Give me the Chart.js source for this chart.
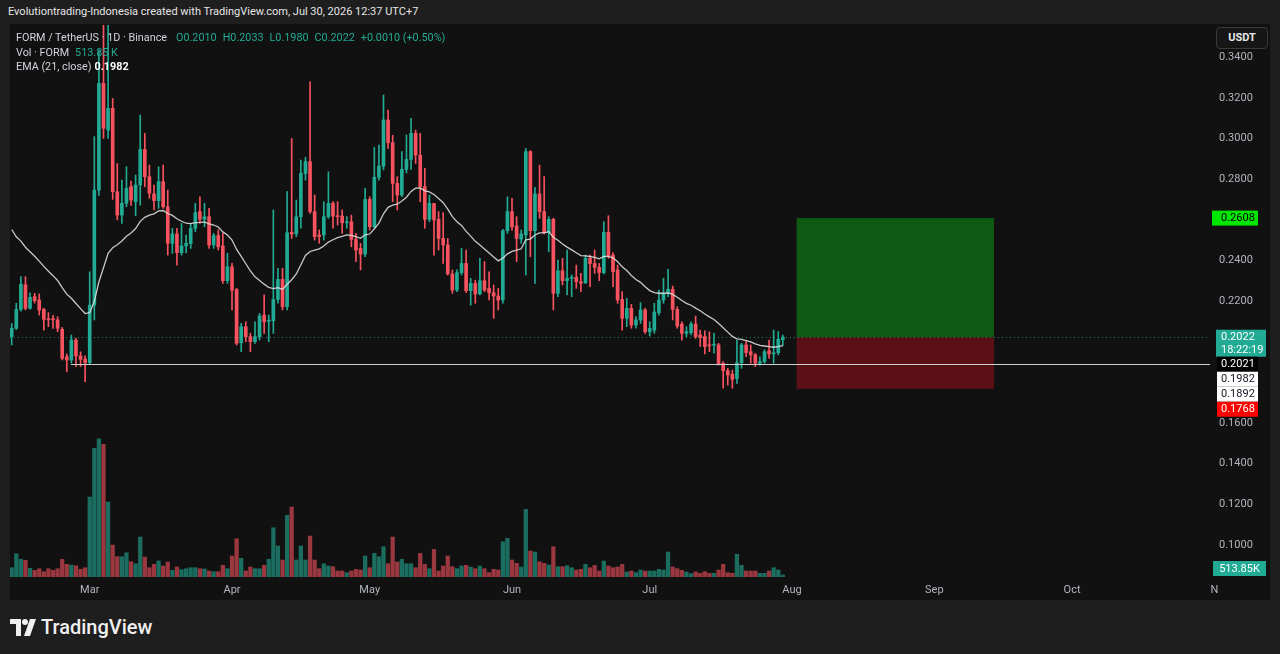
<!DOCTYPE html>
<html>
<head>
<meta charset="utf-8">
<script src="https://cdn.jsdelivr.net/npm/chart.js@4.4.1/dist/chart.umd.min.js"></script>
<style>
  html, body { margin: 0; padding: 0; width: 1280px; height: 654px; overflow: hidden; background: #1e1e1e; font-family: Roboto, "Noto Sans", sans-serif; }
  #title { position: absolute; left: 8px; top: 5px; font-size: 11px; color: #e6e6e6; white-space: nowrap; }
  #pane { position: absolute; left: 10px; top: 24px; width: 1260px; height: 576px; background: #111111; }
  #legend { position: absolute; left: 16px; top: 31px; font-size: 10.8px; line-height: 14.6px; color: #d1d4dc; white-space: nowrap; }
  #legend .up { color: #22ab94; }
  #legend .v { margin-left: 6px; }
  #legend b { color: #fff; font-weight: 700; margin-left: 3px; }
  #usdt { position: absolute; left: 1216px; top: 27px; width: 50px; height: 20px; border: 1px solid #3a3a3a; border-radius: 4px; color: #e6e6e6; font-size: 11px; font-weight: 700; line-height: 20px; text-align: center; background: #161616; }
  #brand { position: absolute; left: 10px; top: 615px; display: flex; align-items: center; color: #f0f0f0; font-size: 20px; font-weight: 500; }
  #brand svg { margin-right: 4px; }
</style>
</head>
<body>
<div id="title">Evolutiontrading-Indonesia created with TradingView.com, Jul 30, 2026 12:37 UTC+7</div>
<div id="pane"><canvas id="chart" width="1260" height="576"></canvas></div>
<div id="legend">
  <div>FORM / TetherUS · 1D · Binance<span class="up v" style="margin-left:9px">O0.2010</span><span class="up v">H0.2033</span><span class="up v">L0.1980</span><span class="up v">C0.2022</span><span class="up v">+0.0010 (+0.50%)</span></div>
  <div>Vol · FORM<span class="up v">513.85 K</span></div>
  <div>EMA (21, close)<b>0.1982</b></div>
</div>
<div id="usdt">USDT</div>
<div id="brand">
  <svg width="27" height="17" viewBox="0 0 27 17"><path d="M0 0h11v17h-5v-12h-6z" fill="#f0f0f0"/><circle cx="15" cy="3" r="3" fill="#f0f0f0"/><path d="M20 0h6l-6 17h-6z" fill="#f0f0f0"/></svg>
  TradingView
</div>
<script>
// daily candles FORM/USDT, first candle Feb 12, last Jul 30
const opens = [
  0.2025,0.2066,0.2159,0.2280,0.2164,0.2222,0.2205,0.2159,0.2112,0.2112,0.2107,0.2061,0.1926,0.1910,0.2008,0.1930,0.1915,
  0.1897,0.2180,0.2746,0.3271,0.3041,0.3148,0.2738,0.2623,0.2681,0.2763,0.2689,0.2771,0.2946,0.2812,0.2727,0.2694,0.2787,
  0.2664,0.2484,0.2530,0.2438,0.2471,0.2483,0.2558,0.2640,0.2602,0.2615,0.2476,0.2522,0.2471,0.2300,0.2369,0.2257,0.1995,
  0.2074,0.2025,0.2000,0.2025,0.2131,0.2100,0.2103,0.2208,0.2307,0.2172,0.2538,0.2530,0.2615,0.2828,0.2886,0.2640,0.2525,
  0.2525,0.2615,0.2681,0.2620,0.2618,0.2585,0.2590,0.2503,0.2459,0.2431,0.2700,0.2566,0.2809,0.2864,0.3091,0.2979,0.2779,
  0.2722,0.2848,0.2897,0.3025,0.2918,0.2763,0.2602,0.2680,0.2602,0.2508,0.2476,0.2333,0.2254,0.2340,0.2385,0.2251,0.2287,
  0.2235,0.2300,0.2262,0.2241,0.2225,0.2205,0.2546,0.2640,0.2569,0.2505,0.2525,0.2935,0.2546,0.2727,0.2640,0.2536,0.2602,
  0.2238,0.2349,0.2300,0.2312,0.2317,0.2295,0.2289,0.2410,0.2385,0.2366,0.2340,0.2538,0.2426,0.2353,0.2208,0.2115,0.2164,
  0.2082,0.2107,0.2156,0.2049,0.2057,0.2143,0.2205,0.2238,0.2258,0.2159,0.2087,0.2041,0.2045,0.2087,0.2033,0.2025,0.1984,
  0.1983,0.1984,0.1894,0.1857,0.1840,0.1819,0.1897,0.1984,0.1951,0.1935,0.1894,0.1902,0.1955,0.1940,0.1946,0.2010
];
const highs = [
  0.2090,0.2189,0.2320,0.2320,0.2240,0.2238,0.2235,0.2165,0.2143,0.2130,0.2123,0.2070,0.1940,0.2033,0.2016,0.1950,0.1930,
  0.2344,0.3009,0.3435,0.3600,0.3600,0.3197,0.2877,0.2795,0.2861,0.2790,0.2820,0.3115,0.3025,0.2869,0.2771,0.2861,0.2869,
  0.2746,0.2558,0.2558,0.2582,0.2525,0.2582,0.2681,0.2713,0.2681,0.2656,0.2533,0.2550,0.2533,0.2435,0.2385,0.2262,0.2090,
  0.2098,0.2041,0.2098,0.2139,0.2230,0.2131,0.2648,0.2361,0.2361,0.2738,0.3000,0.2697,0.2894,0.2907,0.3279,0.2722,0.2550,
  0.2689,0.2836,0.2689,0.2689,0.2648,0.2615,0.2623,0.2533,0.2484,0.2754,0.2713,0.2956,0.2967,0.3214,0.3140,0.3016,0.2812,
  0.2935,0.3017,0.3099,0.3041,0.3025,0.2853,0.2722,0.2681,0.2640,0.2635,0.2508,0.2353,0.2353,0.2459,0.2451,0.2312,0.2303,
  0.2410,0.2394,0.2344,0.2279,0.2262,0.2553,0.2713,0.2705,0.2615,0.2550,0.2951,0.2940,0.2759,0.2869,0.2812,0.2615,0.2607,
  0.2402,0.2410,0.2451,0.2328,0.2377,0.2336,0.2426,0.2426,0.2451,0.2385,0.2590,0.2620,0.2438,0.2377,0.2246,0.2213,0.2184,
  0.2123,0.2192,0.2164,0.2098,0.2189,0.2254,0.2312,0.2356,0.2274,0.2172,0.2098,0.2074,0.2098,0.2126,0.2057,0.2054,0.2049,
  0.2041,0.1992,0.1902,0.1869,0.1860,0.2008,0.1992,0.2000,0.1984,0.1943,0.1926,0.1960,0.2008,0.2057,0.2050,0.2033
];
const lows = [
  0.1984,0.2060,0.2150,0.2156,0.2160,0.2190,0.2131,0.2057,0.2074,0.2065,0.2049,0.1910,0.1852,0.1895,0.1877,0.1877,0.1803,
  0.1890,0.2107,0.2720,0.3000,0.3000,0.2700,0.2599,0.2582,0.2664,0.2670,0.2620,0.2672,0.2763,0.2705,0.2648,0.2656,0.2656,
  0.2426,0.2435,0.2377,0.2426,0.2438,0.2459,0.2541,0.2582,0.2566,0.2459,0.2459,0.2451,0.2287,0.2287,0.2156,0.1984,0.1951,
  0.2000,0.1951,0.1992,0.2008,0.2041,0.2000,0.2041,0.2189,0.2156,0.2156,0.2508,0.2517,0.2558,0.2795,0.2631,0.2500,0.2484,
  0.2500,0.2607,0.2558,0.2574,0.2533,0.2558,0.2467,0.2394,0.2353,0.2418,0.2549,0.2558,0.2795,0.2845,0.2951,0.2689,0.2648,
  0.2713,0.2830,0.2848,0.2877,0.2689,0.2558,0.2590,0.2426,0.2451,0.2385,0.2328,0.2238,0.2246,0.2328,0.2241,0.2180,0.2189,
  0.2230,0.2246,0.2205,0.2115,0.2156,0.2189,0.2533,0.2549,0.2394,0.2484,0.2328,0.2418,0.2287,0.2607,0.2530,0.2443,0.2156,
  0.2221,0.2279,0.2230,0.2221,0.2262,0.2246,0.2287,0.2271,0.2336,0.2300,0.2333,0.2410,0.2271,0.2189,0.2057,0.2074,0.2066,
  0.2066,0.2090,0.2041,0.2028,0.2041,0.2131,0.2189,0.2221,0.2107,0.2066,0.2008,0.2025,0.2033,0.2016,0.1976,0.1940,0.1951,
  0.1943,0.1885,0.1771,0.1787,0.1771,0.1795,0.1869,0.1926,0.1894,0.1877,0.1885,0.1894,0.1918,0.1894,0.1935,0.1980
];
const closes = [
  0.2066,0.2159,0.2282,0.2164,0.2218,0.2202,0.2156,0.2110,0.2108,0.2108,0.2066,0.1918,0.1910,0.2008,0.1930,0.1913,0.1897,
  0.2180,0.2746,0.3271,0.3050,0.3148,0.2738,0.2623,0.2681,0.2754,0.2697,0.2771,0.2946,0.2812,0.2730,0.2694,0.2787,0.2664,
  0.2484,0.2530,0.2438,0.2471,0.2484,0.2558,0.2635,0.2602,0.2615,0.2476,0.2522,0.2467,0.2300,0.2369,0.2254,0.1992,0.2074,
  0.2025,0.2000,0.2025,0.2126,0.2098,0.2105,0.2208,0.2307,0.2172,0.2536,0.2530,0.2615,0.2828,0.2886,0.2640,0.2517,0.2517,
  0.2615,0.2681,0.2618,0.2615,0.2585,0.2590,0.2503,0.2451,0.2431,0.2700,0.2566,0.2809,0.2864,0.3091,0.2979,0.2779,0.2722,
  0.2848,0.2897,0.3025,0.2918,0.2763,0.2602,0.2681,0.2599,0.2508,0.2476,0.2333,0.2254,0.2340,0.2385,0.2251,0.2287,0.2235,
  0.2300,0.2254,0.2241,0.2225,0.2205,0.2546,0.2640,0.2566,0.2508,0.2530,0.2935,0.2546,0.2727,0.2640,0.2536,0.2602,0.2238,
  0.2349,0.2300,0.2312,0.2315,0.2295,0.2287,0.2410,0.2385,0.2366,0.2340,0.2538,0.2421,0.2344,0.2205,0.2115,0.2164,0.2082,
  0.2107,0.2156,0.2049,0.2066,0.2146,0.2205,0.2238,0.2258,0.2159,0.2077,0.2041,0.2049,0.2087,0.2025,0.2021,0.1976,0.1980,
  0.1984,0.1890,0.1857,0.1836,0.1815,0.1897,0.1984,0.1946,0.1935,0.1894,0.1902,0.1951,0.1940,0.1946,0.2012,0.2022
];
// volume in millions of FORM
const volumes = [
  2.39,5.99,4.55,4.29,2.24,1.72,2.13,1.36,2.13,1.72,2.13,4.55,3.26,3.08,2.90,1.98,2.39,
  20.56,33.08,35.54,34.10,19.28,8.22,5.22,5.22,6.25,3.93,3.42,10.28,5.14,2.39,3.26,4.11,2.83,
  3.86,1.72,2.57,1.88,2.13,2.39,2.39,2.13,2.06,1.54,1.36,1.36,3.01,2.13,5.40,9.84,4.81,
  1.54,2.57,2.13,2.13,3.01,4.55,12.67,7.97,4.37,15.86,17.99,4.37,7.97,4.37,10.54,4.37,2.13,
  3.42,2.83,2.65,1.54,1.54,1.11,1.54,1.98,1.80,5.40,2.39,6.09,5.22,7.79,3.42,10.28,3.86,
  4.55,3.42,3.42,2.39,6.09,3.26,2.13,7.12,1.54,2.83,5.40,2.65,2.13,2.83,3.01,2.57,2.13,
  2.83,2.13,1.11,1.98,1.80,9.07,9.95,4.37,3.52,2.57,17.40,6.68,6.43,3.93,3.52,3.08,7.79,
  2.65,2.65,2.90,2.39,1.80,1.98,3.26,2.39,3.01,1.54,4.11,2.83,2.39,2.57,3.26,1.29,1.54,
  1.11,1.80,1.54,1.54,1.54,1.98,1.80,6.43,2.57,2.13,1.72,1.29,0.85,1.29,0.95,1.36,0.95,
  0.95,1.80,3.26,1.11,0.95,5.83,3.01,1.54,1.54,1.54,0.95,0.95,1.54,2.39,1.80,0.51385
];

const monthTicks = [17, 48, 78, 109, 139, 170, 201, 231, 262];
const monthLabels = ['Mar', 'Apr', 'May', 'Jun', 'Jul', 'Aug', 'Sep', 'Oct', 'N'];
const priceTicks = [0.10, 0.12, 0.14, 0.16, 0.18, 0.20, 0.22, 0.24, 0.26, 0.28, 0.30, 0.32, 0.34];
const coveredTicks = [0.18, 0.20, 0.26];

// long position tool and drawings
const posEntry = 0.2022, posTarget = 0.2608, posStop = 0.1768;
const posFrom = 171, posTo = 214;
const hLinePrice = 0.1892, hLineFrom = 12.9;
const lastPrice = 0.2022, countdown = '18:22:19', emaLast = 0.1982;
const lastVolumeText = '513.85K';

const emaLength = 21;
const emaFirst = 0.2552; // EMA value at the first visible candle
const ema = [];
closes.forEach((c, i) => {
  ema.push(i === 0 ? emaFirst : ema[i - 1] + (c - ema[i - 1]) * 2 / (emaLength + 1));
});

const UP = '#22ab94', DOWN = '#f7525f';
const isUp = closes.map((c, i) => c >= opens[i]);
const candleColors = isUp.map(u => u ? UP : DOWN);
const volColors = isUp.map(u => u ? 'rgba(34,171,148,0.6)' : 'rgba(247,82,95,0.6)');

const overlay = {
  id: 'overlay',
  beforeDatasetsDraw(chart) {
    const { ctx, chartArea: a, scales: { x, y } } = chart;
    ctx.save();
    const x0 = x.getPixelForValue(posFrom), x1 = x.getPixelForValue(posTo);
    const yT = y.getPixelForValue(posTarget), yE = y.getPixelForValue(posEntry), yS = y.getPixelForValue(posStop);
    ctx.fillStyle = '#0e5a12';
    ctx.fillRect(x0, yT, x1 - x0, yE - yT);
    ctx.fillStyle = '#5a1015';
    ctx.fillRect(x0, yE, x1 - x0, yS - yE);
    // last price dotted line
    const yl = Math.round(y.getPixelForValue(lastPrice)) + 0.5;
    ctx.strokeStyle = 'rgba(34,171,148,0.75)';
    ctx.lineWidth = 1;
    ctx.setLineDash([1, 3]);
    ctx.beginPath();
    ctx.moveTo(a.left, yl);
    ctx.lineTo(a.right, yl);
    ctx.stroke();
    ctx.restore();
  },
  afterDatasetsDraw(chart) {
    const { ctx, chartArea: a, scales: { x, y } } = chart;
    ctx.save();
    const yh = Math.round(y.getPixelForValue(hLinePrice)) + 0.5;
    ctx.strokeStyle = '#cfcfcf';
    ctx.lineWidth = 1.2;
    ctx.beginPath();
    ctx.moveTo(x.getPixelForValue(hLineFrom), yh);
    ctx.lineTo(a.right, yh);
    ctx.stroke();
    ctx.restore();
  },
  afterDraw(chart) {
    const { ctx, chartArea: a, scales: { y, yv } } = chart;
    ctx.save();
    ctx.font = '11px Roboto, sans-serif';
    ctx.textBaseline = 'middle';
    ctx.textAlign = 'left';
    const textX = a.right + 11;
    // target label
    let py = y.getPixelForValue(posTarget);
    ctx.fillStyle = '#00e600';
    ctx.fillRect(a.right + 2, py - 7.5, 46, 15);
    ctx.fillStyle = '#000';
    ctx.fillText(posTarget.toFixed(4), textX, py + 0.5);
    // stacked labels around the last price
    const marks = [
      { p: lastPrice, t: lastPrice.toFixed(4), sub: countdown, bg: UP, fg: '#fff' },
      { p: 0.2021, t: '0.2021', bg: '#000', fg: '#fff' },
      { p: emaLast, t: emaLast.toFixed(4), bg: '#fff', fg: '#131722' },
      { p: hLinePrice, t: hLinePrice.toFixed(4), bg: '#fff', fg: '#131722' },
      { p: posStop, t: posStop.toFixed(4), bg: '#ff0000', fg: '#fff' }
    ];
    let bottom = -Infinity;
    marks.forEach(m => {
      const h = m.sub ? 27 : 15;
      const top = Math.max(y.getPixelForValue(m.p) - 7.5, bottom);
      ctx.fillStyle = m.bg;
      if (m.sub) ctx.fillRect(a.right + 6, top, 50, h);
      else ctx.fillRect(a.right + 7, top, 41, h);
      ctx.fillStyle = m.fg;
      ctx.fillText(m.t, textX, top + 8);
      if (m.sub) ctx.fillText(m.sub, textX, top + 20.5);
      bottom = top + h;
    });
    // last volume label
    const vy = Math.min(yv.getPixelForValue(volumes[volumes.length - 1]), a.bottom - 8.5);
    ctx.fillStyle = UP;
    ctx.fillRect(a.right + 3, vy - 7.5, 53, 15);
    ctx.fillStyle = '#fff';
    ctx.textAlign = 'center';
    ctx.fillText(lastVolumeText, a.right + 29.5, vy + 0.5);
    ctx.restore();
  }
};

new Chart(document.getElementById('chart'), {
  type: 'bar',
  data: {
    datasets: [
      {
        label: 'Volume',
        data: volumes.map((v, i) => ({ x: i, y: v })),
        yAxisID: 'yv',
        backgroundColor: volColors,
        barThickness: 3.6,
        grouped: false,
        order: 4
      },
      {
        label: 'Wicks',
        data: highs.map((h, i) => ({ x: i, y: [lows[i], h] })),
        backgroundColor: candleColors,
        barThickness: 1,
        grouped: false,
        order: 3
      },
      {
        label: 'Bodies',
        data: opens.map((o, i) => ({ x: i, y: [o, closes[i]] })),
        backgroundColor: candleColors,
        barThickness: 3,
        minBarLength: 1,
        grouped: false,
        order: 2
      },
      {
        type: 'line',
        label: 'EMA (21, close)',
        data: ema.map((v, i) => ({ x: i, y: v })),
        borderColor: 'rgba(225,225,225,0.88)',
        borderWidth: 1.3,
        pointRadius: 0,
        tension: 0,
        order: 1
      }
    ]
  },
  options: {
    responsive: false,
    animation: false,
    layout: { padding: { top: 1, left: 0, right: 0, bottom: 0 } },
    plugins: { legend: { display: false }, tooltip: { enabled: false } },
    scales: {
      x: {
        type: 'linear',
        offset: false,
        min: -0.37,
        max: 261.06,
        grid: { display: false, drawTicks: false },
        border: { display: false },
        afterBuildTicks: s => { s.ticks = monthTicks.map(v => ({ value: v })); },
        afterFit: s => { s.height = 23; s.paddingLeft = 0; s.paddingRight = 0; },
        ticks: {
          autoSkip: false,
          maxRotation: 0,
          padding: 7,
          color: '#b2b5be',
          font: { family: 'Roboto', size: 11 },
          callback: v => monthLabels[monthTicks.indexOf(v)] || ''
        }
      },
      y: {
        position: 'right',
        min: 0.08423,
        max: 0.35582,
        grid: { display: false, drawTicks: false },
        border: { display: false },
        afterBuildTicks: s => { s.ticks = priceTicks.map(v => ({ value: v })); },
        afterFit: s => { s.width = 60; s.paddingTop = 0; s.paddingBottom = 0; },
        ticks: {
          padding: 9,
          color: '#b2b5be',
          font: { family: 'Roboto', size: 11 },
          callback: v => coveredTicks.some(c => Math.abs(c - v) < 1e-6) ? '' : v.toFixed(4)
        }
      },
      yv: {
        display: false,
        min: 0,
        max: 142
      }
    }
  },
  plugins: [overlay]
});
</script>
</body>
</html>
